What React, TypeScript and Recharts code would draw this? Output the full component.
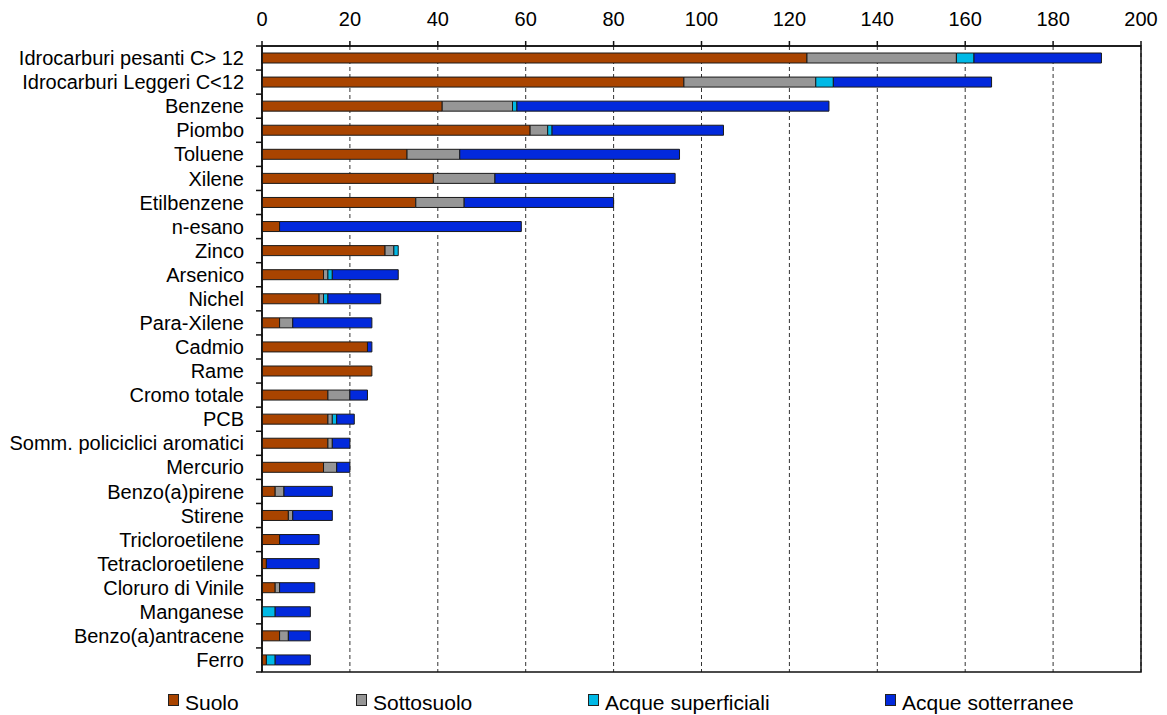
import { BarChart, Bar, XAxis, YAxis, CartesianGrid, ReferenceArea } from "recharts";

const categories = [
  "Idrocarburi pesanti C> 12",
  "Idrocarburi Leggeri C<12",
  "Benzene",
  "Piombo",
  "Toluene",
  "Xilene",
  "Etilbenzene",
  "n-esano",
  "Zinco",
  "Arsenico",
  "Nichel",
  "Para-Xilene",
  "Cadmio",
  "Rame",
  "Cromo totale",
  "PCB",
  "Somm. policiclici aromatici",
  "Mercurio",
  "Benzo(a)pirene",
  "Stirene",
  "Tricloroetilene",
  "Tetracloroetilene",
  "Cloruro di Vinile",
  "Manganese",
  "Benzo(a)antracene",
  "Ferro",
];

const suolo = [124, 96, 41, 61, 33, 39, 35, 4, 28, 14, 13, 4, 24, 25, 15, 15, 15, 14, 3, 6, 4, 1, 3, 0, 4, 1];
const sottosuolo = [34, 30, 16, 4, 12, 14, 11, 0, 2, 1, 1, 3, 0, 0, 5, 1, 1, 3, 2, 1, 0, 0, 1, 0, 2, 0];
const acqueSuperficiali = [4, 4, 1, 1, 0, 0, 0, 0, 1, 1, 1, 0, 0, 0, 0, 1, 0, 0, 0, 0, 0, 0, 0, 3, 0, 2];
const acqueSotterranee = [29, 36, 71, 39, 50, 41, 34, 55, 0, 15, 12, 18, 1, 0, 4, 4, 4, 3, 11, 9, 9, 12, 8, 8, 5, 8];

const xTicks = [0, 20, 40, 60, 80, 100, 120, 140, 160, 180, 200];

const series = [
  { key: "suolo", name: "Suolo", color: "#A94400", values: suolo },
  { key: "sottosuolo", name: "Sottosuolo", color: "#969696", values: sottosuolo },
  { key: "acqueSup", name: "Acque superficiali", color: "#00B9E6", values: acqueSuperficiali },
  { key: "acqueSott", name: "Acque sotterranee", color: "#0229DC", values: acqueSotterranee },
];

const data = categories.map((name, i) => {
  const row: Record<string, string | number> = { name };
  series.forEach((s) => {
    row[s.key] = s.values[i];
  });
  return row;
});

const FONT = "'Liberation Sans', Arial, sans-serif";
const TICK_SIZE = 6;
const TICK_MARGIN = 12;
const legendLeft = [168, 356, 588, 885];

// category labels, with the tick marks drawn between the bands (not at centers)
const CategoryTick = (props: any) => {
  const { x, y, payload, index, visibleTicksCount } = props;
  const half = payload && payload.offset ? payload.offset : 12;
  const axisX = x + TICK_MARGIN + TICK_SIZE;
  return (
    <g>
      <line x1={axisX - TICK_SIZE} x2={axisX} y1={y - half} y2={y - half} stroke="#111" strokeWidth={1.5} />
      {index === visibleTicksCount - 1 && (
        <line x1={axisX - TICK_SIZE} x2={axisX} y1={y + half} y2={y + half} stroke="#111" strokeWidth={1.5} />
      )}
      <text x={x} y={y} dy="0.355em" textAnchor="end" fontSize={20} fill="#000" fontFamily={FONT}>
        {payload.value}
      </text>
    </g>
  );
};

export default function App() {
  return (
    <div style={{ position: "absolute", left: 0, top: 0, width: 1167, height: 715, fontFamily: FONT, background: "#fff" }}>
      <BarChart
        width={1167}
        height={715}
        data={data}
        layout="vertical"
        margin={{ top: 6, right: 26, bottom: 43, left: 12 }}
      >
        <CartesianGrid horizontal={false} stroke="#333" strokeDasharray="4 3" />
        <XAxis
          type="number"
          orientation="top"
          domain={[0, 200]}
          ticks={xTicks}
          interval={0}
          height={40}
          tickSize={5}
          tickMargin={15}
          axisLine={{ stroke: "#111", strokeWidth: 1.5 }}
          tickLine={{ stroke: "#111", strokeWidth: 1.5 }}
          tick={{ fontSize: 20, fill: "#000", fontFamily: FONT }}
        />
        <YAxis
          type="category"
          dataKey="name"
          width={250}
          interval={0}
          tickSize={TICK_SIZE}
          tickMargin={TICK_MARGIN}
          tickLine={false}
          axisLine={{ stroke: "#111", strokeWidth: 1.5 }}
          tick={<CategoryTick />}
        />
        {series.map((s) => (
          <Bar
            key={s.key}
            dataKey={s.key}
            name={s.name}
            stackId="a"
            fill={s.color}
            stroke="#1a1a1a"
            strokeWidth={1}
            barSize={10}
            isAnimationActive={false}
          />
        ))}
        <ReferenceArea x1={0} x2={200} fill="none" fillOpacity={0} stroke="#111" strokeWidth={1.5} ifOverflow="visible" />
      </BarChart>
      {series.map((s, i) => (
        <div
          key={s.key}
          style={{
            position: "absolute",
            left: legendLeft[i],
            top: 691,
            display: "flex",
            alignItems: "flex-start",
            fontSize: 21,
            lineHeight: "24px",
            color: "#000",
            whiteSpace: "nowrap",
          }}
        >
          <span
            style={{
              display: "inline-block",
              width: 9,
              height: 10,
              marginTop: 3,
              marginRight: 6,
              background: s.color,
              border: "1px solid #222",
            }}
          />
          {s.name}
        </div>
      ))}
    </div>
  );
}
